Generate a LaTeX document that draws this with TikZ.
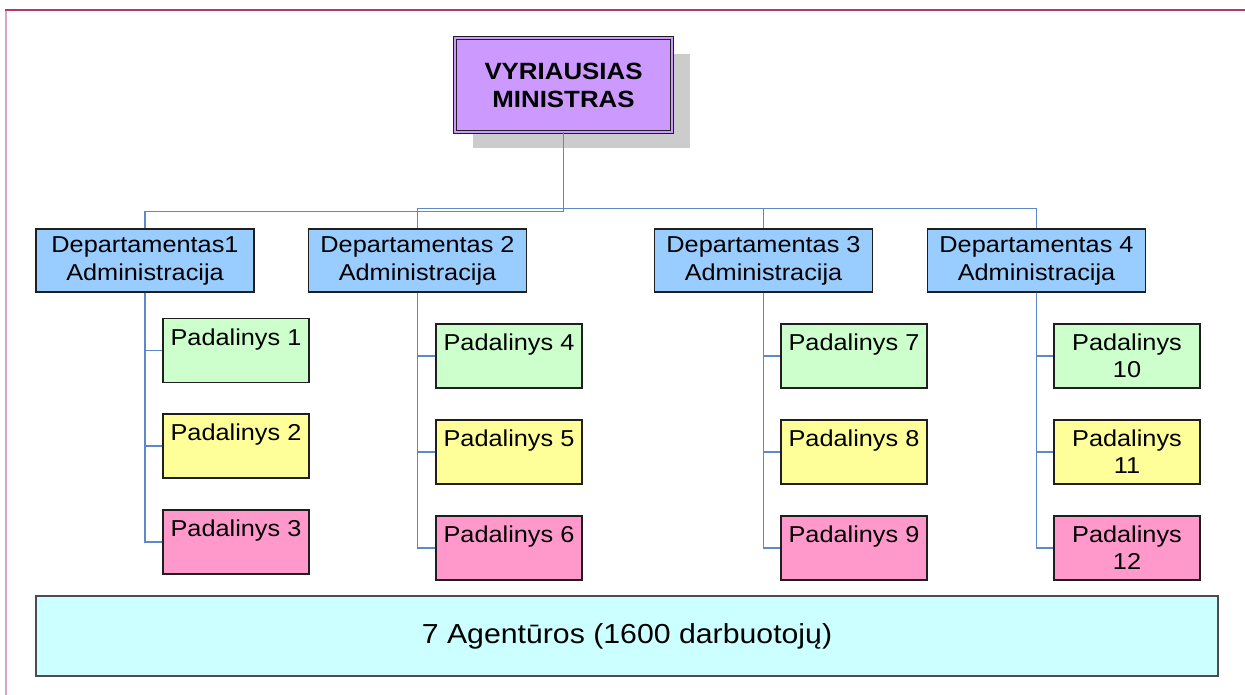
\documentclass[tikz,border=0pt]{standalone}
\usepackage{fontspec}
\setmainfont{Liberation Sans}[FakeStretch=1.1]
\usetikzlibrary{shadows}
\definecolor{vmfill}{HTML}{CC99FF}
\definecolor{depfill}{HTML}{99CCFF}
\definecolor{pgreen}{HTML}{CCFFCC}
\definecolor{pyellow}{HTML}{FFFF99}
\definecolor{ppink}{HTML}{FF99CC}
\definecolor{agfill}{HTML}{CCFFFF}
\definecolor{conn}{HTML}{5F88C8}
\definecolor{frametop}{HTML}{AE3A6E}
\definecolor{frameleft}{HTML}{D9A3C3}
\definecolor{shadowgray}{HTML}{CCCCCC}
\tikzset{
  boxbase/.style={draw=black!88, line width=1.2pt, inner sep=0pt, align=center},
  vmbox/.style={boxbase, fill=vmfill, double=vmfill, double distance=2pt, line width=1pt,
    minimum width=217pt, minimum height=94pt, font=\fontsize{23.5}{28}\selectfont\bfseries,
    drop shadow={shadow xshift=18pt, shadow yshift=-16pt, fill=shadowgray, opacity=1}},
  depbox/.style={boxbase, fill=depfill, minimum width=218pt, minimum height=63pt,
    font=\fontsize{23}{28}\selectfont},
  padbox/.style={boxbase, minimum width=146pt, minimum height=64pt,
    font=\fontsize{23}{27}\selectfont},
  agbox/.style={draw=black!70, line width=1.2pt, fill=agfill, minimum width=1182pt,
    minimum height=80pt, font=\fontsize{27.5}{32}\selectfont},
  connector/.style={draw=conn, line width=1.2pt},
}
\begin{document}
\begin{tikzpicture}[x=1pt, y=-1pt]
\useasboundingbox (0,0) rectangle (1245,695);
% frame
\draw[frameleft, line width=2pt] (6,10) -- (6,695);
\draw[frametop, line width=1.5pt] (5,10) -- (1245,10);

\node[vmbox] (vm) at (563.5,85) {VYRIAUSIAS\\MINISTRAS};

\node[depbox] (d1) at (145,260.5) {Departamentas1\\Administracija};
\node[depbox] (d2) at (417.5,260.5) {Departamentas 2\\Administracija};
\node[depbox] (d3) at (763.5,260.5) {Departamentas 3\\Administracija};
\node[depbox] (d4) at (1036.5,260.5) {Departamentas 4\\Administracija};

\node[padbox, fill=pgreen]  (p1) at (236,350.5) {Padalinys 1\\\mbox{}};
\node[padbox, fill=pyellow] (p2) at (236,446) {Padalinys 2\\\mbox{}};
\node[padbox, fill=ppink]   (p3) at (236,542) {Padalinys 3\\\mbox{}};

\node[padbox, fill=pgreen]  (p4) at (509,356) {Padalinys 4\\\mbox{}};
\node[padbox, fill=pyellow] (p5) at (509,452) {Padalinys 5\\\mbox{}};
\node[padbox, fill=ppink]   (p6) at (509,548) {Padalinys 6\\\mbox{}};

\node[padbox, fill=pgreen]  (p7) at (854,356) {Padalinys 7\\\mbox{}};
\node[padbox, fill=pyellow] (p8) at (854,452) {Padalinys 8\\\mbox{}};
\node[padbox, fill=ppink]   (p9) at (854,548) {Padalinys 9\\\mbox{}};

\node[padbox, fill=pgreen]  (p10) at (1127,356) {Padalinys\\10};
\node[padbox, fill=pyellow] (p11) at (1127,452) {Padalinys\\11};
\node[padbox, fill=ppink]   (p12) at (1127,548) {Padalinys\\12};

\node[agbox] (ag) at (627,636) {7 Agentūros (1600 darbuotojų)};

% connectors from the prime minister
\draw[connector] (vm.south) -- ++(0,79) -| (d1.north);
\draw[connector] (vm.south) -- ++(0,76) -| (d2.north);
\draw[connector] (vm.south) -- ++(0,76) -| (d3.north);
\draw[connector] (vm.south) -- ++(0,76) -| (d4.north);

% connectors to units
\foreach \d/\a/\b/\c in {d1/p1/p2/p3, d2/p4/p5/p6, d3/p7/p8/p9, d4/p10/p11/p12}{
  \draw[connector] (\d.south) |- (\a.west);
  \draw[connector] (\d.south) |- (\b.west);
  \draw[connector] (\d.south) |- (\c.west);
}
\end{tikzpicture}
\end{document}
